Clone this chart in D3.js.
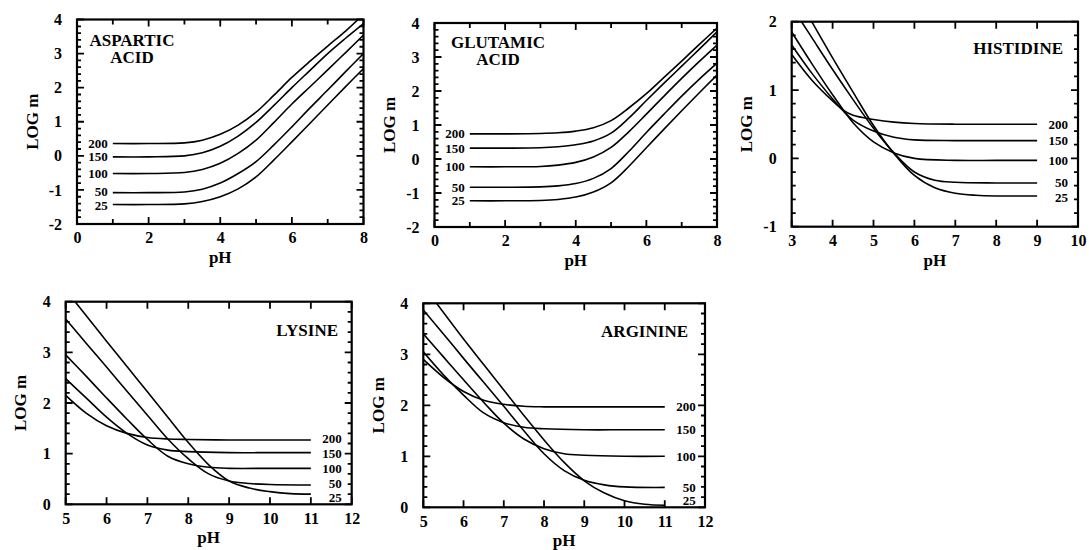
<!DOCTYPE html>
<html><head><meta charset="utf-8">
<script src="https://cdn.jsdelivr.net/npm/d3@7"></script>
<style>
body{margin:0;background:#fff;}
svg text{font-family:"Liberation Serif","Times New Roman",serif;font-weight:bold;fill:#000;}
</style></head><body>
<svg id="chart" width="1089" height="550"></svg>
<script>
// ---------- data: [pH, log m] ----------
const temps = ["200", "150", "100", "50", "25"];

const asp200 = [[1,0.36],[2,0.36],[3,0.38],[3.5,0.46],[4,0.63],[4.5,0.9],[5,1.28],[5.5,1.78],[6,2.3],[6.5,2.77],[7,3.22],[7.5,3.66],[7.85,4.0]];
const asp150 = [[1,-0.03],[2,-0.03],[3,0.0],[3.5,0.09],[4,0.28],[4.5,0.58],[5,0.98],[5.5,1.48],[6,2.0],[6.5,2.5],[7,3.0],[7.5,3.45],[8,3.88]];
const asp100 = [[1,-0.52],[2,-0.52],[3,-0.49],[3.5,-0.4],[4,-0.22],[4.5,0.07],[5,0.46],[5.5,0.98],[6,1.52],[6.5,2.02],[7,2.52],[7.5,3.03],[8,3.54]];
const asp50  = [[1,-1.08],[2,-1.08],[3,-1.06],[3.5,-0.98],[4,-0.8],[4.5,-0.52],[5,-0.17],[5.5,0.32],[6,0.85],[6.5,1.4],[7,1.93],[7.5,2.47],[8,3.0]];
const asp25  = [[1,-1.43],[2,-1.43],[3,-1.41],[3.5,-1.34],[4,-1.2],[4.5,-0.97],[5,-0.62],[5.5,-0.12],[6,0.41],[6.5,0.95],[7,1.49],[7.5,2.03],[8,2.56]];

const glu200 = [[1,0.74],[2,0.74],[3,0.75],[3.5,0.77],[4,0.82],[4.5,0.92],[5,1.13],[5.5,1.5],[6,1.92],[6.5,2.4],[7,2.88],[7.5,3.37],[8,3.85]];
const glu150 = [[1,0.32],[2,0.32],[3,0.33],[3.5,0.36],[4,0.42],[4.5,0.53],[5,0.76],[5.5,1.2],[6,1.72],[6.5,2.23],[7,2.73],[7.5,3.23],[8,3.74]];
const glu100 = [[1,-0.23],[2,-0.23],[3,-0.22],[3.5,-0.18],[4,-0.1],[4.5,0.06],[5,0.34],[5.5,0.8],[6,1.32],[6.5,1.85],[7,2.37],[7.5,2.87],[8,3.35]];
const glu50  = [[1,-0.83],[2,-0.83],[3,-0.82],[3.5,-0.79],[4,-0.72],[4.5,-0.57],[5,-0.28],[5.5,0.22],[6,0.78],[6.5,1.32],[7,1.85],[7.5,2.35],[8,2.82]];
const glu25  = [[1,-1.23],[2,-1.23],[3,-1.22],[3.5,-1.19],[4,-1.12],[4.5,-0.97],[5,-0.7],[5.5,-0.22],[6,0.33],[6.5,0.88],[7,1.42],[7.5,1.95],[8,2.47]];

const his200 = [[3,1.52],[3.5,1.14],[4,0.84],[4.25,0.71],[4.5,0.63],[5,0.57],[5.5,0.53],[6,0.51],[7,0.5],[8,0.5],[9,0.5]];
const his150 = [[3,1.66],[3.5,1.24],[4,0.87],[4.25,0.7],[4.5,0.56],[5,0.4],[5.5,0.31],[6,0.27],[7,0.26],[8,0.26],[9,0.26]];
const his100 = [[3,1.85],[3.5,1.38],[4,0.93],[4.25,0.72],[4.5,0.52],[5,0.24],[5.5,0.08],[6,0.0],[7,-0.03],[8,-0.03],[9,-0.03]];
const his50  = [[3.24,2.0],[3.5,1.76],[4,1.3],[4.5,0.86],[5,0.44],[5.5,0.08],[6,-0.2],[6.5,-0.32],[7,-0.35],[8,-0.36],[9,-0.36]];
const his25  = [[3.49,2.0],[4,1.47],[4.5,0.97],[5,0.48],[5.5,0.07],[6,-0.25],[6.5,-0.43],[7,-0.51],[7.5,-0.54],[8,-0.55],[9,-0.55]];

const lys200 = [[5,2.15],[5.5,1.8],[6,1.55],[6.5,1.4],[7,1.32],[7.5,1.29],[8,1.28],[9,1.27],[10,1.27],[11,1.27]];
const lys150 = [[5,2.48],[5.5,2.1],[6,1.72],[6.5,1.4],[7,1.17],[7.5,1.07],[8,1.04],[9,1.02],[10,1.02],[11,1.02]];
const lys100 = [[5,2.95],[5.5,2.53],[6,2.1],[6.5,1.68],[7,1.28],[7.5,0.95],[8,0.8],[8.5,0.73],[9,0.71],[10,0.71],[11,0.71]];
const lys50  = [[5,3.66],[5.5,3.18],[6,2.71],[6.5,2.23],[7,1.76],[7.5,1.29],[8,0.9],[8.5,0.6],[9,0.46],[9.5,0.41],[10,0.39],[11,0.38]];
const lys25  = [[5.23,4.0],[6,3.22],[6.5,2.72],[7,2.22],[7.5,1.72],[8,1.22],[8.5,0.78],[9,0.46],[9.5,0.32],[10,0.25],[10.5,0.21],[11,0.2]];

const arg200 = [[5,2.9],[5.5,2.55],[6,2.27],[6.5,2.1],[7,2.02],[7.5,1.98],[8,1.97],[9,1.97],[10,1.97],[11,1.97]];
const arg150 = [[5,3.05],[5.5,2.6],[6,2.2],[6.5,1.85],[7,1.66],[7.5,1.57],[8,1.54],[9,1.52],[10,1.52],[11,1.52]];
const arg100 = [[5,3.4],[5.5,2.95],[6,2.5],[6.5,2.06],[7,1.65],[7.5,1.34],[8,1.15],[8.5,1.05],[9,1.02],[10,1.0],[11,1.0]];
const arg50  = [[5,3.87],[5.5,3.4],[6,2.92],[6.5,2.45],[7,1.98],[7.5,1.5],[8,1.05],[8.5,0.72],[9,0.53],[9.5,0.44],[10,0.4],[11,0.39]];
const arg25  = [[5.33,4.0],[6,3.3],[6.5,2.8],[7,2.3],[7.5,1.8],[8,1.32],[8.5,0.88],[9,0.52],[9.5,0.28],[10,0.13],[10.5,0.06],[11,0.04]];

// tick labels
const xTicksAcid = [0, 2, 4, 6, 8];
const xTicksHis = [3, 4, 5, 6, 7, 8, 9, 10];
const xTicksBase = [5, 6, 7, 8, 9, 10, 11, 12];
const yTicksAcid = [-2, -1, 0, 1, 2, 3, 4];
const yTicksHis = [-1, 0, 1, 2];
const yTicksBase = [0, 1, 2, 3, 4];

// ---------- layout ----------
const panels = [
  {title:["ASPARTIC","ACID"], titleAnchor:"middle", titleX:132, titleY:[46,63],
   series:[asp200,asp150,asp100,asp50,asp25], box:[77,19.5,363.5,224],
   xd:[0,8], yd:[-2,4], xt:xTicksAcid, xMinor:[1,3,5,7], yt:yTicksAcid,
   labelSide:"left", labelDy:[0,0,0,-1,1]},
  {title:["GLUTAMIC","ACID"], titleAnchor:"middle", titleX:498, titleY:[48,65],
   series:[glu200,glu150,glu100,glu50,glu25], box:[434.5,23,717,227],
   xd:[0,8], yd:[-2,4], xt:xTicksAcid, xMinor:[1,3,5,7], yt:yTicksAcid,
   labelSide:"left", labelDy:[0,0,0,0,0]},
  {title:["HISTIDINE"], titleAnchor:"end", titleX:1063, titleY:[54],
   series:[his200,his150,his100,his50,his25], box:[791.7,21.7,1078,226.7],
   xd:[3,10], yd:[-1,2], xt:xTicksHis, xMinor:[], yt:yTicksHis,
   labelSide:"right", labelDy:[0,0,0,0,2]},
  {title:["LYSINE"], titleAnchor:"end", titleX:338, titleY:[336],
   series:[lys200,lys150,lys100,lys50,lys25], box:[65.7,301.7,351.7,504.3],
   xd:[5,12], yd:[0,4], xt:xTicksBase, xMinor:[], yt:yTicksBase,
   labelSide:"right", labelDy:[-1,1,0,-2,3]},
  {title:["ARGININE"], titleAnchor:"end", titleX:688, titleY:[337],
   series:[arg200,arg150,arg100,arg50,arg25], box:[423.3,303.3,705,507.3],
   xd:[5,12], yd:[0,4], xt:xTicksBase, xMinor:[], yt:yTicksBase,
   labelSide:"right", labelDy:[0,0,0,0,-5]}
];

const svg = d3.select("#chart");
const fmt = d => d < 0 ? "-" + Math.abs(d) : String(d);

panels.forEach((p, i) => {
  const [x0, y0, x1, y1] = p.box;
  const x = d3.scaleLinear().domain(p.xd).range([x0, x1]);
  const y = d3.scaleLinear().domain(p.yd).range([y1, y0]);
  const g = svg.append("g");

  const yMinor = d3.range(p.yd[0], p.yd[1] + 1e-9, 0.2).filter(v => Math.abs(v - Math.round(v)) > 1e-6);

  // inward ticks on all four sides, built as one path per panel
  const path = d3.path();
  const hT = (vals, len) => vals.forEach(v => {
    const yy = y(v);
    path.moveTo(x0, yy); path.lineTo(x0 + len, yy);
    path.moveTo(x1, yy); path.lineTo(x1 - len, yy);
  });
  const vT = (vals, len) => vals.forEach(v => {
    const xx = x(v);
    path.moveTo(xx, y1); path.lineTo(xx, y1 - len);
    path.moveTo(xx, y0); path.lineTo(xx, y0 + len);
  });
  hT(p.yt, 7); hT(yMinor, 4);
  vT(p.xt, 7); vT(p.xMinor, 5);
  g.append("path").attr("d", path.toString()).attr("fill", "none")
    .attr("stroke", "#000").attr("stroke-width", 1.8);

  // tick labels via d3 axes
  const ya = g.append("g").attr("transform", `translate(${x0},0)`)
    .call(d3.axisLeft(y).tickValues(p.yt).tickSize(0).tickPadding(15).tickFormat(fmt));
  ya.select(".domain").remove();
  ya.selectAll("text").attr("font-size", 16).attr("font-family", null);
  const xa = g.append("g").attr("transform", `translate(0,${y1})`)
    .call(d3.axisBottom(x).tickValues(p.xt).tickSize(0).tickPadding(8).tickFormat(fmt));
  xa.select(".domain").remove();
  xa.selectAll("text").attr("font-size", 16).attr("font-family", null);

  // frame
  g.append("rect").attr("x", x0).attr("y", y0).attr("width", x1 - x0).attr("height", y1 - y0)
    .attr("fill", "none").attr("stroke", "#000").attr("stroke-width", 2.2);

  // axis titles
  g.append("text").attr("transform", `translate(${x0 - 45},${(y0 + y1) / 2}) rotate(-90)`)
    .attr("text-anchor", "middle").attr("dominant-baseline", "central").attr("font-size", 17).text("LOG m");
  g.append("text").attr("x", (x0 + x1) / 2).attr("y", y1 + 39).attr("text-anchor", "middle")
    .attr("font-size", 17).text("pH");

  // curves
  const clipId = "clip" + i;
  svg.append("clipPath").attr("id", clipId).append("rect")
    .attr("x", x0).attr("y", y0).attr("width", x1 - x0).attr("height", y1 - y0);
  const line = d3.line().x(d => x(d[0])).y(d => y(d[1])).curve(d3.curveCatmullRom.alpha(0.5));
  g.append("g").attr("clip-path", `url(#${clipId})`).selectAll("path").data(p.series).join("path")
    .attr("d", line).attr("fill", "none").attr("stroke", "#000").attr("stroke-width", 1.6);

  // temperature labels
  p.series.forEach((s, k) => {
    const pt = p.labelSide === "left" ? s[0] : s[s.length - 1];
    const tx = p.labelSide === "left" ? x(pt[0]) - 5 : x(pt[0]) + 31;
    g.append("text").attr("x", tx).attr("y", y(pt[1]) + p.labelDy[k]).attr("text-anchor", "end")
      .attr("dominant-baseline", "central").attr("font-size", 13).text(temps[k]);
  });

  // panel title
  p.title.forEach((t, k) => {
    g.append("text").attr("x", p.titleX).attr("y", p.titleY[k]).attr("text-anchor", p.titleAnchor)
      .attr("font-size", 17).text(t);
  });
});
</script>
</body></html>
